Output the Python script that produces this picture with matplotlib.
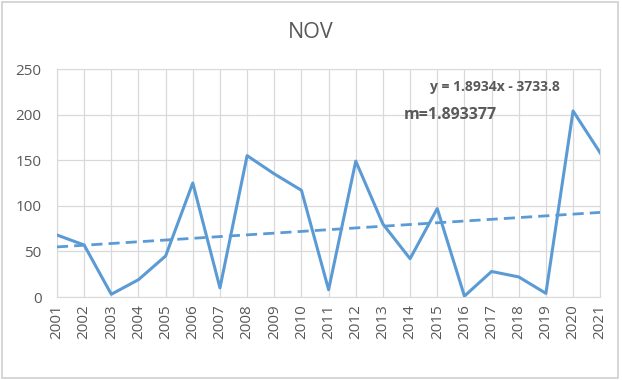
import numpy as np
import matplotlib
matplotlib.use("Agg")
import matplotlib.pyplot as plt
from matplotlib.patches import Rectangle

plt.rcParams['font.family'] = ['Open Sans', 'DejaVu Sans']

years = list(range(2001, 2022))
values = [68, 57, 3, 19, 45, 125, 10, 155, 135, 117, 8, 149, 80, 42, 97, 1, 28, 22, 4, 204, 158]
slope = 1.8934
intercept = -3733.8
eq_label = "y = 1.8934x - 3733.8"
m_label = "m=1.893377"

blue = "#5B9BD5"
grey_txt = "#595959"
grid_c = "#D9D9D9"

fig = plt.figure(figsize=(6.22, 3.8), dpi=100)
fig.patches.append(Rectangle((0.004, 0.006), 0.99, 0.988, transform=fig.transFigure,
                             fill=False, edgecolor="#D0D0D0", linewidth=1.2))
ax = fig.add_axes([0.0916, 0.2184, 0.8734, 0.6])

x = np.array(years)
ax.plot(x, values, color=blue, linewidth=2.2, zorder=3)
trend = slope * x + intercept
ax.plot(x, trend, color=blue, linewidth=2.0, linestyle=(0, (4, 2.2)), zorder=3)

ax.set_xlim(2001, 2021)
ax.set_ylim(0, 250)
ax.set_yticks(range(0, 251, 50))
ax.set_xticks(years)
ax.set_xticklabels([str(y) for y in years], rotation=90)
ax.grid(True, color=grid_c, linewidth=0.9)
ax.set_axisbelow(True)
for s in ax.spines.values():
    s.set_color(grid_c)
ax.tick_params(length=0, colors=grey_txt, labelsize=11)
ax.tick_params(axis="y", pad=11)
ax.tick_params(axis="x", pad=5)

fig.text(0.5, 0.915, "NOV", ha="center", va="center", fontsize=15.5, color=grey_txt)
ax.text(2014.75, 230, eq_label, fontsize=10, fontweight="bold", color=grey_txt, va="center")
ax.text(2013.75, 200, m_label, fontsize=11.5, fontweight="bold", color=grey_txt, va="center")

fig.savefig("out.png", dpi=100)
